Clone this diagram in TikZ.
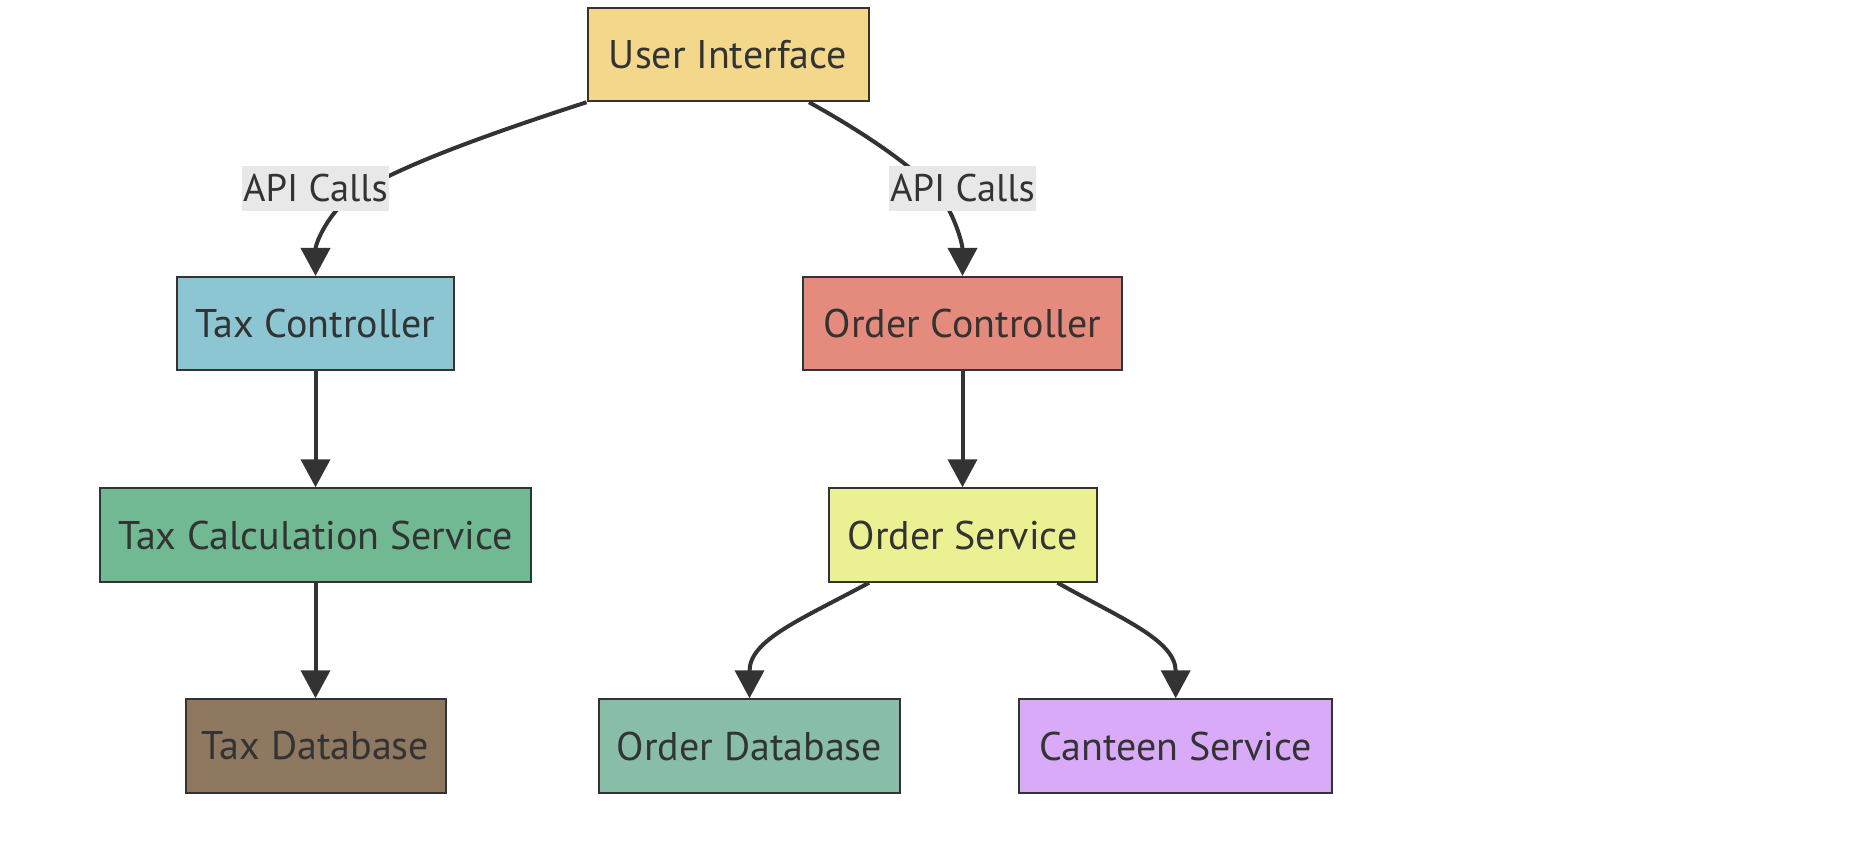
\documentclass[tikz,border=0pt]{standalone}
\usepackage{fontspec}
\setmainfont{PT Sans}
\usetikzlibrary{arrows.meta,calc}
\definecolor{ink}{HTML}{333333}
\definecolor{cUI}{HTML}{F3D88B}
\definecolor{cTC}{HTML}{8BC6D2}
\definecolor{cOC}{HTML}{E48B7D}
\definecolor{cTCS}{HTML}{71B992}
\definecolor{cOS}{HTML}{EBF193}
\definecolor{cTDB}{HTML}{8E785F}
\definecolor{cODB}{HTML}{88BEA8}
\definecolor{cCS}{HTML}{D8AAF8}
\definecolor{cLbl}{HTML}{E8E8E8}
\tikzset{
  box/.style={draw=ink, line width=2pt, rectangle, inner sep=0pt, minimum height=93.5pt,
    text=ink, font=\fontsize{40}{44}\selectfont},
  conn/.style={draw=ink, line width=4pt, -{Triangle[length=28pt,width=29pt]}},
  elabel/.style={fill=cLbl, inner sep=0pt, minimum width=147pt, minimum height=45pt,
    text=ink, font=\fontsize{38.5}{42}\selectfont}
}
\begin{document}
\begin{tikzpicture}[x=1pt,y=-1pt]
\useasboundingbox[fill=white] (0,0) rectangle (1860,846);
\node[box, fill=cUI, minimum width=281pt] (ui) at (728,54.5) {User Interface};
\node[box, fill=cTC, minimum width=277pt] (tc) at (315.5,323.7) {Tax Controller};
\node[box, fill=cOC, minimum width=319pt] (oc) at (962.5,323.7) {Order Controller};
\node[box, fill=cTCS, minimum width=431pt] (tcs) at (315.5,535) {Tax Calculation Service};
\node[box, fill=cOS, minimum width=268pt] (os) at (962.5,535) {Order Service};
\node[box, fill=cTDB, minimum width=260pt] (tdb) at (315.5,746) {Tax Database};
\node[box, fill=cODB, minimum width=301.5pt] (odb) at (749.5,746) {Order Database};
\node[box, fill=cCS, minimum width=313.5pt] (cs) at (1175.7,746) {Canteen Service};

\coordinate (uiR) at ($(ui.south)+(81,0)$);
\coordinate (osL) at ($(os.south)+(-93.5,0)$);
\coordinate (osR) at ($(os.south)+(95,0)$);

\draw[conn] (ui.south west) .. controls (470,140) and (360,180) .. (335,212)
  .. controls (322,228) and (tc.north |- 0,245) .. (tc.north);
\draw[conn] (uiR) .. controls (870,136) and (935,180) .. (950,212)
  .. controls (958,228) and (oc.north |- 0,245) .. (oc.north);
\draw[conn] (tc.south) -- (tcs.north);
\draw[conn] (tcs.south) -- (tdb.north);
\draw[conn] (oc.south) -- (os.north);
\draw[conn] (osL) .. controls (800,620) and (odb.north |- 0,640) .. (odb.north);
\draw[conn] (osR) .. controls (1120,618) and (cs.north |- 0,640) .. (cs.north);

\node[elabel] (l1) at (315.5,188.5) {API Calls};
\node[elabel] (l2) at (962.5,188.5) {API Calls};
\end{tikzpicture}
\end{document}
